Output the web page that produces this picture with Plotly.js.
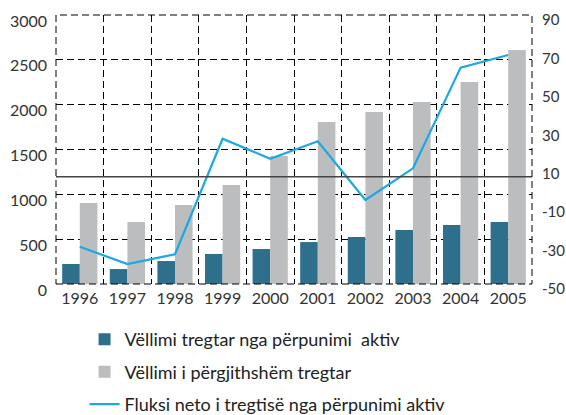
<!DOCTYPE html>
<html>
<head>
<meta charset="utf-8">
<script src="https://cdn.plot.ly/plotly-3.0.1.min.js"></script>
<style>html,body{margin:0;padding:0;background:#fff;}#chart{width:566px;height:415px;}</style>
</head>
<body>
<div id="chart"></div>
<script>
var years = ["1996","1997","1998","1999","2000","2001","2002","2003","2004","2005"];
var activeVolume = [223, 167, 256, 335, 390, 468, 524, 602, 658, 691];
var totalVolume = [903, 691, 881, 1104, 1427, 1807, 1918, 2030, 2253, 2609];
var netFlux = [-30.6, -39.6, -34.5, 25.6, 15.2, 24.3, -6.3, 10.2, 62.6, 69.2];
var leftTicks = [0, 500, 1000, 1500, 2000, 2500, 3000];
var rightTicks = [-50, -30, -10, 10, 30, 50, 70, 90];
var rightTickText = ["-50", "-30", "-10", "10", "30", "50", "70", "90"];
var names = ["Vëllimi tregtar nga përpunimi  aktiv", "Vëllimi i përgjithshëm tregtar", "Fluksi neto i tregtisë nga përpunimi aktiv"];

var FONT = "Lato, 'Open Sans', sans-serif";
var traces = [
  {type:"bar", x:years, y:activeVolume, name:names[0], marker:{color:"#2E708B"}, legendgroup:"a", hoverinfo:"y"},
  {type:"bar", x:years, y:totalVolume, name:names[1], marker:{color:"#BCBDBF"}, legendgroup:"b", hoverinfo:"y"},
  {type:"scatter", mode:"lines", x:years, y:netFlux, name:names[2], yaxis:"y2", line:{color:"#1AA9E3", width:2.2}, legendgroup:"c"}
];
var layout = {
  width:566, height:415,
  margin:{l:56, r:34, t:15, b:131, autoexpand:false},
  paper_bgcolor:"#fff", plot_bgcolor:"#fff",
  font:{family:FONT, color:"#333", size:16},
  barmode:"group", bargap:0.26, bargroupgap:0,
  showlegend:true,
  legend:{x:0.06, xanchor:"left", y:-0.138, yanchor:"top", traceorder:"grouped", tracegroupgap:6,
          font:{size:18, color:"#222"}, bgcolor:"rgba(0,0,0,0)"},
  xaxis:{type:"category", tickson:"boundaries", showgrid:true, gridcolor:"#000", griddash:"7px,4px", gridwidth:1,
         ticks:"", showline:false, zeroline:false, range:[-0.5, 9.5], tickfont:{size:16, color:"#333"}, ticklabelstandoff:3},
  yaxis:{range:[0,3000], tickvals:leftTicks, showgrid:true, gridcolor:"#000", griddash:"7px,4px", gridwidth:1,
         ticks:"", showline:false, zeroline:false, tickfont:{size:16, color:"#333"}, ticklabelstandoff:8, ticklabelshift:6},
  yaxis2:{range:[-50,90], tickvals:rightTicks, ticktext:rightTickText, overlaying:"y", side:"right", showgrid:false, zeroline:false,
          ticks:"", showline:false, tickfont:{size:15, color:"#333"}, ticklabelstandoff:9, ticklabelshift:5},
  shapes:[
    {type:"line", xref:"paper", yref:"y", x0:0, x1:1, y0:1195, y1:1195, line:{color:"#444", width:1.5}},
    {type:"rect", xref:"paper", yref:"paper", x0:0, x1:1, y0:0, y1:1, line:{color:"#000", width:1, dash:"7px,4px"}}
  ]
};
Plotly.newPlot("chart", traces, layout, {displayModeBar:false, staticPlot:true});
</script>
</body>
</html>
